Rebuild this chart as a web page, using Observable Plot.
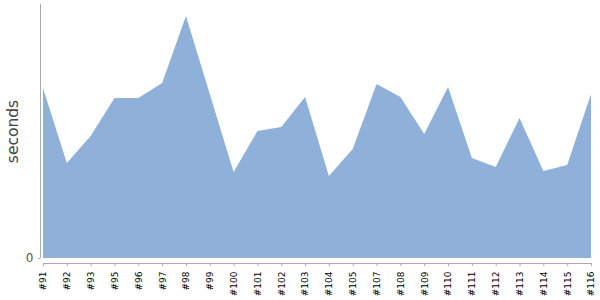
<!DOCTYPE html>
<html>
<head>
<meta charset="utf-8">
<script src="https://cdn.jsdelivr.net/npm/d3@7"></script>
<script src="https://cdn.jsdelivr.net/npm/@observablehq/plot@0.6"></script>
<style>
  html, body { margin: 0; padding: 0; background: #fff; }
</style>
</head>
<body>
<div id="chart"></div>
<script>
const builds = ["#91","#92","#93","#95","#96","#97","#98","#99","#100","#101","#102","#103",
                "#104","#105","#107","#108","#109","#110","#111","#112","#113","#114","#115","#116"];
const seconds = [170, 95, 122, 160, 160, 175, 242, 164, 86, 127, 131, 161,
                 82, 109, 174, 161, 124, 171, 100, 91, 140, 87, 93, 164];
const yTicks = [0];
const yLabel = "seconds";

const data = builds.map((b, i) => ({index: i, build: b, seconds: seconds[i]}));
const xIdx = builds.map((b, i) => i);
const last = builds.length - 1;
const axisColor = "#aaaaaa";

const chart = Plot.plot({
  width: 600,
  height: 300,
  marginLeft: 43,
  marginRight: 9,
  marginTop: 4,
  marginBottom: 42,
  style: {fontFamily: "DejaVu Sans", background: "#fff"},
  x: {type: "linear", domain: [0, last]},
  y: {domain: [0, 254]},
  marks: [
    Plot.areaY(data, {x: "index", y: "seconds", fill: "#8fb1d9", curve: "linear"}),
    Plot.ruleX([0], {y1: 0, y2: 254, dx: -3, stroke: axisColor}),
    Plot.ruleY([0], {x1: 0, x2: last, dy: 5, stroke: axisColor}),
    Plot.axisX(xIdx, {dy: 5, tickSize: 3, tickPadding: 5, tickRotate: -90, stroke: axisColor,
                fill: "#000", fontSize: 9, label: null, tickFormat: i => builds[i]}),
    Plot.axisY(yTicks, {dx: -3, tickSize: 2, tickPadding: 5, stroke: axisColor,
                fill: "#555", fontSize: 12, label: null}),
    Plot.text([yLabel], {frameAnchor: "left", dx: -30.5, rotate: -90, fontSize: 15.5,
                fill: "#444", textAnchor: "middle", lineAnchor: "middle"})
  ]
});
document.getElementById("chart").appendChild(chart);
</script>
</body>
</html>
